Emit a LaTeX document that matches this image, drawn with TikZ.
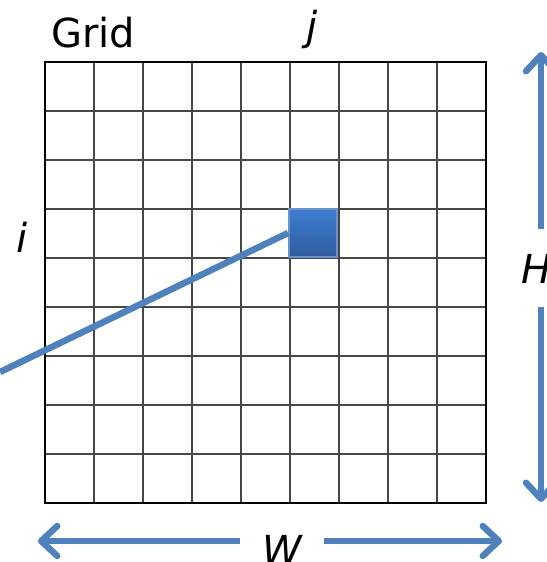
\documentclass[tikz,border=0pt]{standalone}
\usepackage{fontspec}
\setmainfont{DejaVu Sans}
\usetikzlibrary{arrows.meta,positioning}
\definecolor{lineblue}{HTML}{4F81BD}
\definecolor{celltop}{HTML}{3D7DD0}
\definecolor{cellbot}{HTML}{2D5C9E}

\begin{document}
\begin{tikzpicture}[x=1pt,y=-1pt,
  gridline/.style={draw=black!72,line width=2.8pt},
  frame/.style={draw=black,line width=2.4pt},
  cell/.style={draw=lineblue!85,line width=2pt,top color=celltop,bottom color=cellbot,minimum size=48pt,inner sep=0pt},
  lbl/.style={font=\fontsize{40}{48}\selectfont,inner sep=0pt},
  arrow/.style={-{Straight Barb[length=16pt,width=30pt,round]},line width=6.5pt,draw=lineblue},
  link/.style={line width=6.5pt,draw=lineblue}
]
\useasboundingbox (0,0) rectangle (546,562);

% grid
\foreach \k in {1,...,8} {
  \draw[gridline] (45+49*\k,62) -- (45+49*\k,503);
  \draw[gridline] (45,62+49*\k) -- (486,62+49*\k);
}
\draw[frame] (45,62) rectangle (486,503);

% labels
\node[lbl,anchor=base west] (title) at (51,47) {Grid};
\node[lbl,anchor=base] (jlab) at (312,40) {\itshape j};
\node[lbl,anchor=base] (ilab) at (22,252) {\itshape i};
\node[lbl,anchor=base west] (hlab) at (521,283) {\itshape H};
\node[lbl,anchor=base] (wlab) at (282,564) {\itshape W};

% selected cell and its link
\coordinate (lend) at (0,372);
\node[cell] (sel) at (313,233) {};
\draw[link] (sel.west) -- (lend);

% size arrows
\coordinate (hu) at (541,52);
\coordinate (hd) at (541,502);
\coordinate (wl) at (38,541);
\coordinate (wr) at (502,541);
\draw[arrow,shorten <=25pt] (hlab.north -| hu) -- (hu);
\draw[arrow,shorten <=24pt] (hlab.south -| hd) -- (hd);
\draw[arrow,shorten <=22pt] (wlab.west |- wl) -- (wl);
\draw[arrow,shorten <=22pt] (wlab.east |- wr) -- (wr);
\end{tikzpicture}
\end{document}
